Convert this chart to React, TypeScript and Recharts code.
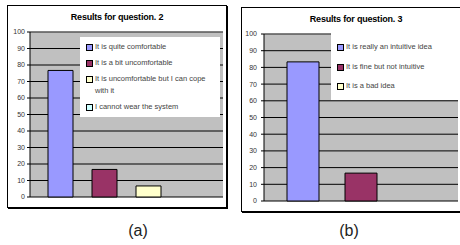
import React from 'react';
import { BarChart, Bar, XAxis, YAxis, CartesianGrid, Cell, Legend, ReferenceLine } from 'recharts';

const q2Categories = [
  'It is quite comfortable',
  'It is a bit uncomfortable',
  'It is uncomfortable but I can cope with it',
  'I cannot wear the system',
];
const q2Values = [76.7, 16.7, 6.7, 0];

const q3Categories = [
  'It is really an intuitive idea',
  'It is fine but not intuitive',
  'It is a bad idea',
];
const q3Values = [83.3, 16.7, 0];

const yTicks = [0, 10, 20, 30, 40, 50, 60, 70, 80, 90, 100];
const barColors = ['#9999FF', '#993366', '#FFFFCC', '#CCFFFF'];

const q2Data = q2Categories.map((name, i) => ({ name, value: q2Values[i] }));
const q3Data = q3Categories.map((name, i) => ({ name, value: q3Values[i] }));

const FONT = '"Liberation Sans", Arial, sans-serif';

function makeLegend(categories: string[], textWidth: number) {
  return () => (
    <div
      style={{
        display: 'flex',
        flexDirection: 'column',
        justifyContent: 'space-evenly',
        height: '100%',
        paddingLeft: 6,
        boxSizing: 'border-box',
      }}
    >
      {categories.map((c, i) => (
        <div key={c} style={{ display: 'flex', alignItems: 'flex-start', fontSize: 7.5, lineHeight: '12px', color: '#444', fontFamily: FONT }}>
          <span
            style={{
              display: 'inline-block',
              width: 5,
              height: 5,
              border: '1px solid #000',
              background: barColors[i],
              marginTop: 3,
              marginRight: 2,
              flex: 'none',
            }}
          />
          <span style={{ width: textWidth }}>{c}</span>
        </div>
      ))}
    </div>
  );
}

function Panel(props: {
  left: number;
  top: number;
  width: number;
  height: number;
  title: string;
  titleTop: number;
}) {
  return (
    <>
      <div
        style={{
          position: 'absolute',
          left: props.left,
          top: props.top,
          width: props.width,
          height: props.height,
          border: '1px solid #000',
          boxShadow: '1px 1px 0 #000',
          background: '#fff',
          boxSizing: 'border-box',
        }}
      />
      <div
        style={{
          position: 'absolute',
          left: props.left,
          top: props.titleTop,
          width: props.width,
          textAlign: 'center',
          fontFamily: FONT,
          fontWeight: 'bold',
          fontSize: 9,
          letterSpacing: -0.2,
          color: '#000',
        }}
      >
        {props.title}
      </div>
    </>
  );
}

export default function App() {
  return (
    <div style={{ position: 'absolute', left: 0, top: 0, width: 460, height: 245, background: '#fff', overflow: 'hidden' }}>
      <Panel left={7} top={5} width={220} height={203} title="Results for question. 2" titleTop={12} />
      <Panel left={241} top={7} width={230} height={205} title="Results for question. 3" titleTop={14} />

      <div style={{ position: 'absolute', left: 0, top: 0 }}>
        <BarChart width={230} height={210} data={q2Data} margin={{ top: 32, right: 7, bottom: 13, left: 0 }}>
          <CartesianGrid vertical={false} stroke="#000" fill="#C0C0C0" fillOpacity={1} />
          <ReferenceLine y={100} stroke="#808080" />
          <XAxis
            dataKey="name"
            tick={false}
            tickLine={false}
            height={0}
            axisLine={{ stroke: '#000' }}
            padding={{ left: 8, right: 9 }}
          />
          <YAxis
            domain={[0, 100]}
            ticks={yTicks}
            interval={0}
            width={30}
            tickSize={3}
            tickMargin={2}
            axisLine={{ stroke: '#000' }}
            tickLine={{ stroke: '#000' }}
            tick={{ fontSize: 7, fill: '#333', fontFamily: FONT }}
          />
          <Legend
            layout="vertical"
            align="center"
            verticalAlign="middle"
            content={makeLegend(q2Categories, 124)}
            wrapperStyle={{ left: 80, top: 37, width: 140, height: 80, background: '#fff' }}
          />
          <Bar dataKey="value" barSize={25} stroke="#000" strokeWidth={1} isAnimationActive={false}>
            {q2Data.map((d, i) => (
              <Cell key={d.name} fill={barColors[i]} />
            ))}
          </Bar>
        </BarChart>
      </div>

      <div style={{ position: 'absolute', left: 230, top: 0 }}>
        <BarChart width={230} height={215} data={q3Data} margin={{ top: 34, right: 2, bottom: 14, left: 0 }}>
          <CartesianGrid vertical={false} stroke="#000" fill="#C0C0C0" fillOpacity={1} />
          <ReferenceLine y={100} stroke="#808080" />
          <XAxis
            dataKey="name"
            tick={false}
            tickLine={false}
            height={0}
            axisLine={{ stroke: '#000' }}
            padding={{ left: 10, right: 10 }}
          />
          <YAxis
            domain={[0, 100]}
            ticks={yTicks}
            interval={0}
            width={34}
            tickSize={3}
            tickMargin={4}
            axisLine={{ stroke: '#000' }}
            tickLine={{ stroke: '#000' }}
            tick={{ fontSize: 7, fill: '#333', fontFamily: FONT }}
          />
          <Legend
            layout="vertical"
            align="center"
            verticalAlign="middle"
            content={makeLegend(q3Categories, 115)}
            wrapperStyle={{ left: 101, top: 33, width: 130, height: 67, background: '#fff' }}
          />
          <Bar dataKey="value" barSize={32} stroke="#000" strokeWidth={1} isAnimationActive={false}>
            {q3Data.map((d, i) => (
              <Cell key={d.name} fill={barColors[i]} />
            ))}
          </Bar>
        </BarChart>
      </div>

      <div style={{ position: 'absolute', left: 118, top: 222, width: 40, textAlign: 'center', fontFamily: FONT, fontSize: 16, color: '#222' }}>(a)</div>
      <div style={{ position: 'absolute', left: 329, top: 222, width: 40, textAlign: 'center', fontFamily: FONT, fontSize: 16, color: '#222' }}>(b)</div>
    </div>
  );
}
